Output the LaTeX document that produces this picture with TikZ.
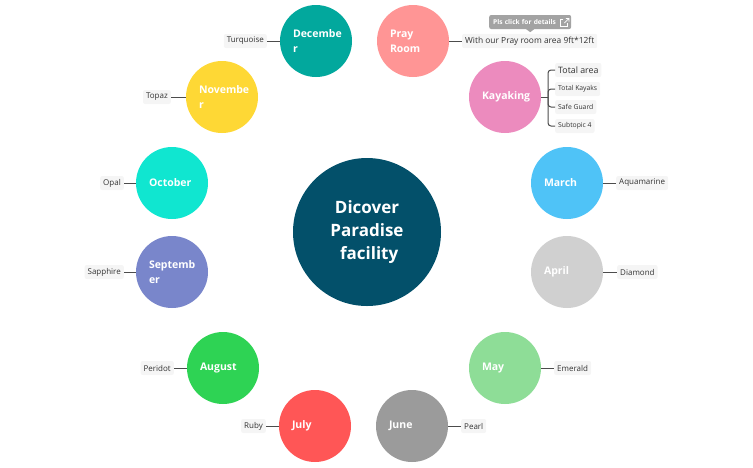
\documentclass[tikz,border=0pt]{standalone}
\usepackage{fontspec}
\setmainfont{Open Sans}
\usepackage{tikz}
\usetikzlibrary{positioning}

\definecolor{hubcol}{HTML}{03506A}
\definecolor{deccol}{HTML}{02A89D}
\definecolor{praycol}{HTML}{FF9595}
\definecolor{kaycol}{HTML}{EC8BBE}
\definecolor{marcol}{HTML}{4FC3F7}
\definecolor{aprcol}{HTML}{D0D0D0}
\definecolor{maycol}{HTML}{8EDD97}
\definecolor{juncol}{HTML}{9B9B9B}
\definecolor{julcol}{HTML}{FF5656}
\definecolor{augcol}{HTML}{2ED354}
\definecolor{sepcol}{HTML}{7986CB}
\definecolor{octcol}{HTML}{10E6D0}
\definecolor{novcol}{HTML}{FED835}
\definecolor{boxcol}{HTML}{F5F5F5}
\definecolor{txtcol}{HTML}{333333}
\definecolor{tipcol}{HTML}{A3A3A3}

\begin{document}
\begin{tikzpicture}
  [x=1pt,y=-1pt]
      \tikzstyle{month_style} = [circle, minimum size=72pt, inner sep=0pt, text=white,
        font=\fontsize{10.5}{15}\selectfont\bfseries, text width=46pt, align=left]
      \tikzstyle{gem_style} = [fill=boxcol, rounded corners=2pt, text=txtcol,
        font=\fontsize{8}{9}\selectfont, inner sep=3pt, minimum height=14pt]
      \tikzstyle{edge_style} = [draw=black!70, line width=1pt]
  \useasboundingbox (0,0) rectangle (753,467);

  \node[circle, fill=hubcol, minimum size=148pt, text=white, align=center,
    font=\fontsize{17}{23}\selectfont\bfseries] (hub) at (367,232) {Dicover\\Paradise\\\ facility};

  \node[month_style, fill=deccol] (dec) at (316,41) {Decembe\\r};
  \node[month_style, fill=praycol] (pray) at (413,41) {Pray\\Room};
  \node[month_style, fill=kaycol] (kay) at (505,97) {Kayaking};
  \node[month_style, fill=marcol] (mar) at (567,183) {March};
  \node[month_style, fill=aprcol] (apr) at (567,272) {April};
  \node[month_style, fill=maycol] (may) at (505,368) {May};
  \node[month_style, fill=juncol] (jun) at (412,426) {June};
  \node[month_style, fill=julcol] (jul) at (315,426) {July};
  \node[month_style, fill=augcol] (aug) at (223,368) {August};
  \node[month_style, fill=sepcol] (sep) at (172,272) {Septemb\\er};
  \node[month_style, fill=octcol] (oct) at (172,183) {October};
  \node[month_style, fill=novcol] (nov) at (222,97) {Novembe\\r};

  % gem stones and details
  \node[gem_style, anchor=east] (turq) at (267,41) {Turquoise};
  \node[gem_style, anchor=west, font=\fontsize{8.4}{10}\selectfont] (area) at (462,41) {With our Pray room area 9ft*12ft};
  \node[gem_style, anchor=east] (topaz) at (171,97) {Topaz};
  \node[gem_style, anchor=east] (opal) at (124,183) {Opal};
  \node[gem_style, anchor=east] (sapph) at (124,272) {Sapphire};
  \node[gem_style, anchor=east] (peri) at (174,368) {Peridot};
  \node[gem_style, anchor=east] (ruby) at (266,426) {Ruby};
  \node[gem_style, anchor=west] (aqua) at (616,183) {Aquamarine};
  \node[gem_style, anchor=west] (diam) at (617,272) {Diamond};
  \node[gem_style, anchor=west] (emer) at (554,368) {Emerald};
  \node[gem_style, anchor=west] (pearl) at (461,426) {Pearl};

  \node[gem_style, anchor=west, font=\fontsize{8.8}{10}\selectfont] (tarea) at (555,70) {Total area};
  \node[gem_style, anchor=west, font=\fontsize{6.8}{8}\selectfont] (tkay) at (555,89) {Total Kayaks};
  \node[gem_style, anchor=west, font=\fontsize{6.8}{8}\selectfont] (safe) at (555,107) {Safe Guard};
  \node[gem_style, anchor=west, font=\fontsize{6.8}{8}\selectfont] (sub4) at (555,126) {Subtopic 4};
  \coordinate (kayb) at (548,97);

  % tooltip
  \node[fill=tipcol, rounded corners=2pt, text=white, font=\fontsize{6.6}{8}\selectfont\bfseries,
    inner xsep=4pt, inner ysep=3pt, minimum height=14pt, text width=74pt, align=left, anchor=west] (tip) at (489,22) {Pls click for details};
  \fill[tipcol] ([xshift=-4pt]tip.south) -- ([yshift=-3pt]tip.south) -- ([xshift=4pt]tip.south) -- cycle;
  \draw[white, line width=0.7pt] ([xshift=-8pt,yshift=2.5pt]tip.east) -- ++(-3,0) -- ++(0,6.5) -- ++(6.5,0) -- ++(0,-3);
  \draw[white, line width=0.7pt] ([xshift=-7pt,yshift=-1pt]tip.east) -- ++(4.5,-4.5) ++(-3,0) -- ++(3,0) -- ++(0,3);

  \draw[edge_style] (dec) -- (turq);
  \draw[edge_style] (pray) -- (area);
  \draw[edge_style] (nov) -- (topaz);
  \draw[edge_style] (oct) -- (opal);
  \draw[edge_style] (sep) -- (sapph);
  \draw[edge_style] (aug) -- (peri);
  \draw[edge_style] (jul) -- (ruby);
  \draw[edge_style] (mar) -- (aqua);
  \draw[edge_style] (apr) -- (diam);
  \draw[edge_style] (may) -- (emer);
  \draw[edge_style] (jun) -- (pearl);
  \draw[edge_style] (kay) -- (kayb);
  \draw[edge_style, rounded corners=3pt] (kayb) |- (tarea);
  \draw[edge_style, rounded corners=3pt] (kayb) |- (tkay);
  \draw[edge_style, rounded corners=3pt] (kayb) |- (safe);
  \draw[edge_style, rounded corners=3pt] (kayb) |- (sub4);
\end{tikzpicture}
\end{document}
